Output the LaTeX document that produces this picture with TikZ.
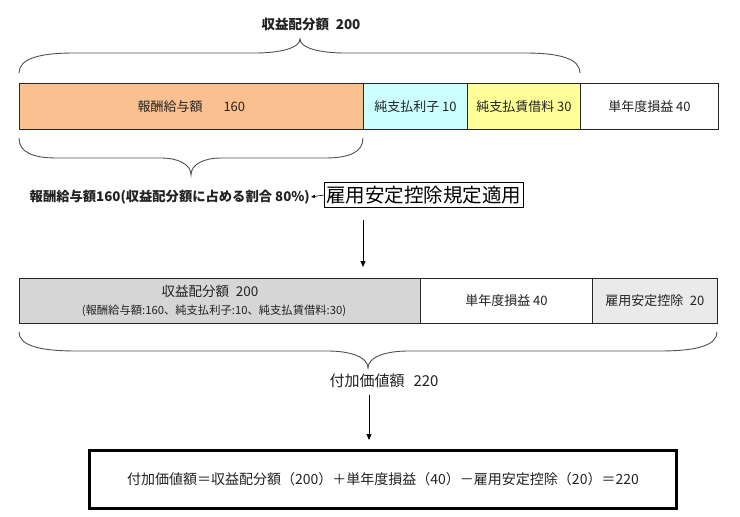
\documentclass[tikz,border=0pt]{standalone}
\usepackage{fontspec}
\setmainfont{Noto Sans CJK JP}
\usetikzlibrary{arrows.meta}
\definecolor{corange}{HTML}{FAC090}
\definecolor{ccyan}{HTML}{CCFFFF}
\definecolor{cyellow}{HTML}{FFFF99}
\definecolor{cgray}{HTML}{D6D6D6}
\definecolor{clgray}{HTML}{EAEAEA}
\definecolor{ctext}{HTML}{222222}
\definecolor{cbrace}{HTML}{505050}
\newcommand\mybrace[8]{%
  % #1 x1, #2 x2, #3 xm, #4 y end, #5 y flat, #6 y tip, #7 end-curve width, #8 tip-curve width
  \draw[bracestyle] (#1,#4)
    .. controls (#1,{#4+0.7*(#5-#4)}) and ({#1+0.35*#7},#5) .. ({#1+#7},#5)
    -- ({#3-#8},#5)
    .. controls ({#3-0.45*#8},#5) and (#3,{#5+0.35*(#6-#5)}) .. (#3,#6)
    .. controls (#3,{#5+0.35*(#6-#5)}) and ({#3+0.45*#8},#5) .. ({#3+#8},#5)
    -- ({#2-#7},#5)
    .. controls ({#2-0.35*#7},#5) and (#2,{#4+0.7*(#5-#4)}) .. (#2,#4);}
\begin{document}
\begin{tikzpicture}[x=1pt,y=-1pt,
  cell/.style={draw=black!85, line width=0.9pt, anchor=north west, inner sep=0pt,
    text=ctext, font=\fontsize{13}{15}\selectfont, align=center},
  bracestyle/.style={draw=cbrace, line width=0.9pt},
  lbl/.style={text=ctext, inner sep=1pt},
  arr/.style={draw=black, line width=0.8pt, -{Triangle[length=6pt,width=5pt]}}]
\useasboundingbox[fill=white] (0,0) rectangle (740,517);

% top bar
\node[cell, fill=corange, minimum width=344pt, minimum height=46pt] (c1) at (19,83) {報酬給与額\hspace{1.6em}160};
\node[cell, fill=ccyan, minimum width=104pt, minimum height=46pt] (c2) at (363,83) {純支払利子 10};
\node[cell, fill=cyellow, minimum width=113pt, minimum height=46pt] (c3) at (467,83) {純支払賃借料 30};
\node[cell, fill=white, minimum width=138pt, minimum height=46pt] (c4) at (580,83) {単年度損益 40};

% top brace and label
\mybrace{19}{580}{300}{73}{53}{39}{55}{45}
\node[lbl, font=\bfseries\fontsize{13.5}{15}\selectfont] (t1) at (311,24) {収益配分額\hspace{0.5em}200};

% brace under 報酬給与額
\mybrace{19}{363}{191}{138}{158}{175}{38}{30}

% employment label and box
\node[draw=black, line width=0.9pt, inner xsep=2pt, inner ysep=1pt, minimum height=25pt,
  font=\fontsize{19.5}{21}\selectfont, anchor=west, text=black] (kb) at (324,195) {雇用安定控除規定適用};
\node[lbl, anchor=east, font=\bfseries\fontsize{13.3}{15}\selectfont] (kl) at (311,197)
  {報酬給与額160(収益配分額に占める割合 80\%)};
\draw[line width=0.6pt, -{Triangle[length=4pt,width=3pt]}] (kb.west) -- (kl.east);

% arrow 1
\coordinate (a1s) at (363,220);
\coordinate (a1e) at (363,267);
\draw[arr] (a1s) -- (a1e);

% middle bar
\node[cell, fill=cgray, minimum width=401pt, minimum height=45pt] (m1) at (19,278) {};
\node[lbl, font=\fontsize{13.5}{15}\selectfont] (m1a) at (210,291) {収益配分額\hspace{0.5em}200};
\node[lbl, font=\fontsize{11.3}{13}\selectfont] (m1b) at (214,311) {(報酬給与額:160、純支払利子:10、純支払賃借料:30)};
\node[cell, fill=white, minimum width=172pt, minimum height=45pt] (m2) at (420,278) {単年度損益 40};
\node[cell, fill=clgray, minimum width=125pt, minimum height=45pt] (m3) at (592,278) {雇用安定控除\hspace{0.5em}20};

% big brace
\mybrace{19}{717}{368}{332}{351}{368}{57}{40}
\node[lbl, font=\fontsize{15}{17}\selectfont] (va) at (384,381) {付加価値額\hspace{0.6em}220};

% arrow 2
\coordinate (a2s) at (369,395);
\coordinate (a2e) at (369,440);
\draw[arr] (a2s) -- (a2e);

% bottom box
\node[draw=black, line width=3pt, anchor=north west, minimum width=587pt, minimum height=58pt,
  inner sep=0pt, text=ctext, font=\fontsize{14}{16}\selectfont] (fb) at (88,449)
  {付加価値額＝収益配分額（200）＋単年度損益（40）－雇用安定控除（20）＝220};
\end{tikzpicture}
\end{document}
